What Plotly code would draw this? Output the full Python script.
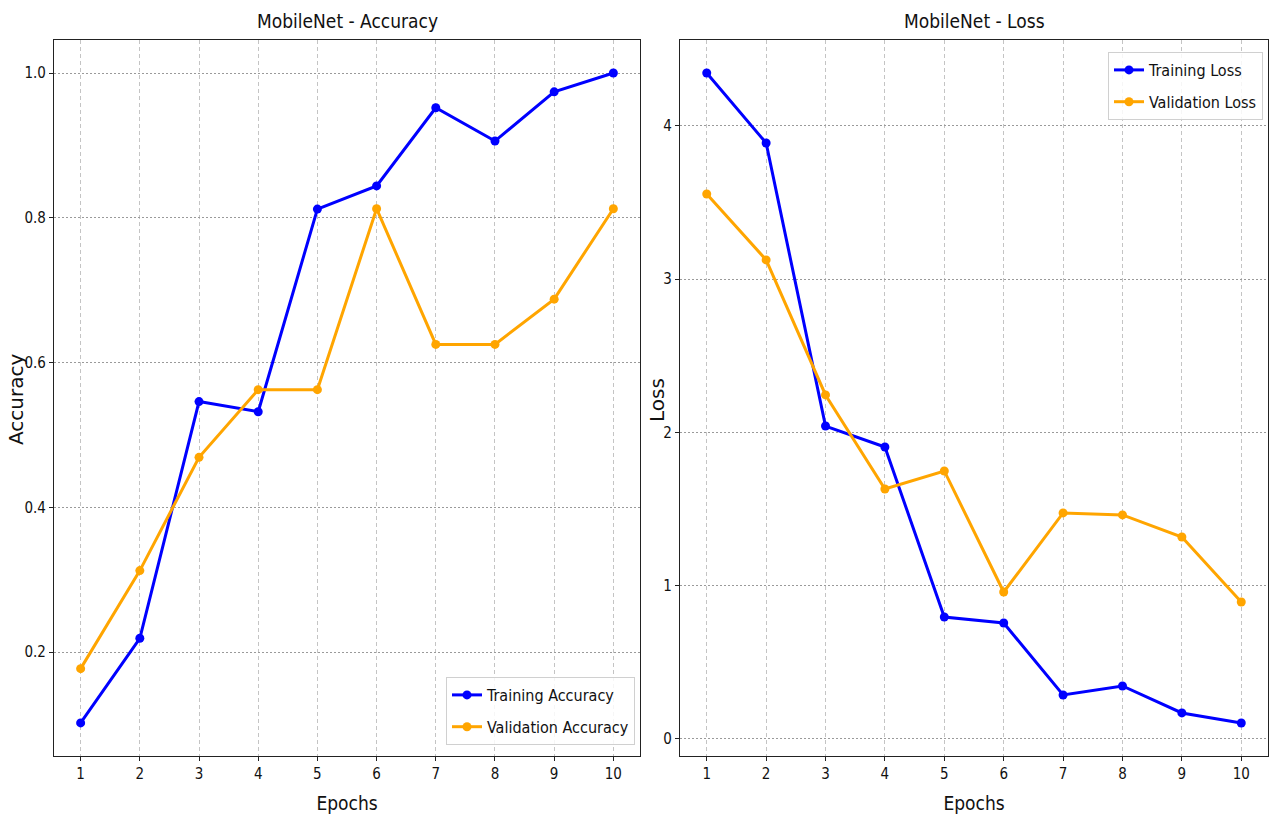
import plotly.graph_objects as go

epochs = [1, 2, 3, 4, 5, 6, 7, 8, 9, 10]
train_acc = [0.102, 0.219, 0.546, 0.532, 0.812, 0.844, 0.952, 0.906, 0.974, 1.0]
val_acc = [0.177, 0.3125, 0.469, 0.5625, 0.5625, 0.8125, 0.625, 0.625, 0.6875, 0.8125]
train_loss = [4.346, 3.889, 2.042, 1.905, 0.796, 0.757, 0.287, 0.346, 0.170, 0.104]
val_loss = [3.556, 3.126, 2.245, 1.631, 1.749, 0.959, 1.475, 1.462, 1.318, 0.894]

acc_ticks = [0.2, 0.4, 0.6, 0.8, 1.0]
loss_ticks = [0, 1, 2, 3, 4]

W, H = 1280, 822
FONT = "Liberation Sans Narrow, DejaVu Sans Condensed, Liberation Sans, sans-serif"
BLUE = "#0000ff"
ORANGE = "#ffa500"

fig = go.Figure()

def add(x, y, name, color, xa, ya, legend):
    fig.add_trace(go.Scatter(
        x=x, y=y, name=name, mode="lines+markers",
        line=dict(color=color, width=3),
        marker=dict(color=color, size=9),
        xaxis=xa, yaxis=ya, legend=legend, legendgroup=name))

add(epochs, train_acc, "Training Accuracy", BLUE, "x", "y", "legend")
add(epochs, val_acc, "Validation Accuracy", ORANGE, "x", "y", "legend")
add(epochs, train_loss, "Training Loss", BLUE, "x2", "y2", "legend2")
add(epochs, val_loss, "Validation Loss", ORANGE, "x2", "y2", "legend2")

ydom = [1 - 756 / H, 1 - 40 / H]

common_x = dict(tickvals=epochs, range=[0.55, 10.45], showgrid=True,
                gridcolor="#c4c4c4", griddash="4px,3px", gridwidth=1,
                showline=True, linecolor="#222", linewidth=1.2, mirror=True,
                ticks="outside", ticklen=4, tickcolor="#222", zeroline=False,
                tickfont=dict(family=FONT, size=15, color="#111"),
                title=dict(text="Epochs", font=dict(family=FONT, size=19, color="#111"), standoff=14))
common_y = dict(showgrid=True, gridcolor="#9a9a9a", griddash="2px,2px", gridwidth=1,
                showline=True, linecolor="#222", linewidth=1.2, mirror=True,
                ticks="outside", ticklen=4, tickcolor="#222", zeroline=False,
                tickfont=dict(family=FONT, size=15, color="#111"))

fig.update_layout(
    width=W, height=H,
    margin=dict(l=0, r=0, t=0, b=0),
    paper_bgcolor="white", plot_bgcolor="white",
    xaxis=dict(domain=[54 / W, 640 / W], anchor="y", **common_x),
    yaxis=dict(domain=ydom, anchor="x", range=[0.0563, 1.0456], tickvals=acc_ticks,
               ticktext=["0.2", "0.4", "0.6", "0.8", "1.0"], **common_y),
    xaxis2=dict(domain=[680 / W, 1268 / W], anchor="y2", **common_x),
    yaxis2=dict(domain=ydom, anchor="x2", range=[-0.111, 4.561], tickvals=loss_ticks, **common_y),
    legend=dict(x=635 / W, y=1 - 745 / H, xanchor="right", yanchor="bottom",
                bgcolor="rgba(255,255,255,0.85)", bordercolor="#d0d0d0", borderwidth=1,
                font=dict(family=FONT, size=16, color="#111"), tracegroupgap=8, itemwidth=30),
    legend2=dict(x=1263 / W, y=1 - 52 / H, xanchor="right", yanchor="top",
                 bgcolor="rgba(255,255,255,0.85)", bordercolor="#d0d0d0", borderwidth=1,
                 font=dict(family=FONT, size=16, color="#111"), tracegroupgap=8, itemwidth=30),
    showlegend=True,
    annotations=[
        dict(text="MobileNet - Accuracy", x=(54 + 640) / 2 / W, y=1 - 21 / H, xref="paper", yref="paper",
             showarrow=False, font=dict(family=FONT, size=19, color="#111"), xanchor="center", yanchor="middle"),
        dict(text="MobileNet - Loss", x=(680 + 1268) / 2 / W, y=1 - 21 / H, xref="paper", yref="paper",
             showarrow=False, font=dict(family=FONT, size=19, color="#111"), xanchor="center", yanchor="middle"),
        dict(text="Accuracy", x=16 / W, y=1 - 400 / H, xref="paper", yref="paper", textangle=-90,
             showarrow=False, font=dict(family="DejaVu Sans", size=20, color="#111"),
             xanchor="center", yanchor="middle"),
        dict(text="Loss", x=657 / W, y=1 - 400 / H, xref="paper", yref="paper", textangle=-90,
             showarrow=False, font=dict(family="DejaVu Sans", size=20, color="#111"),
             xanchor="center", yanchor="middle"),
    ],
)

fig.write_html("out.html")
